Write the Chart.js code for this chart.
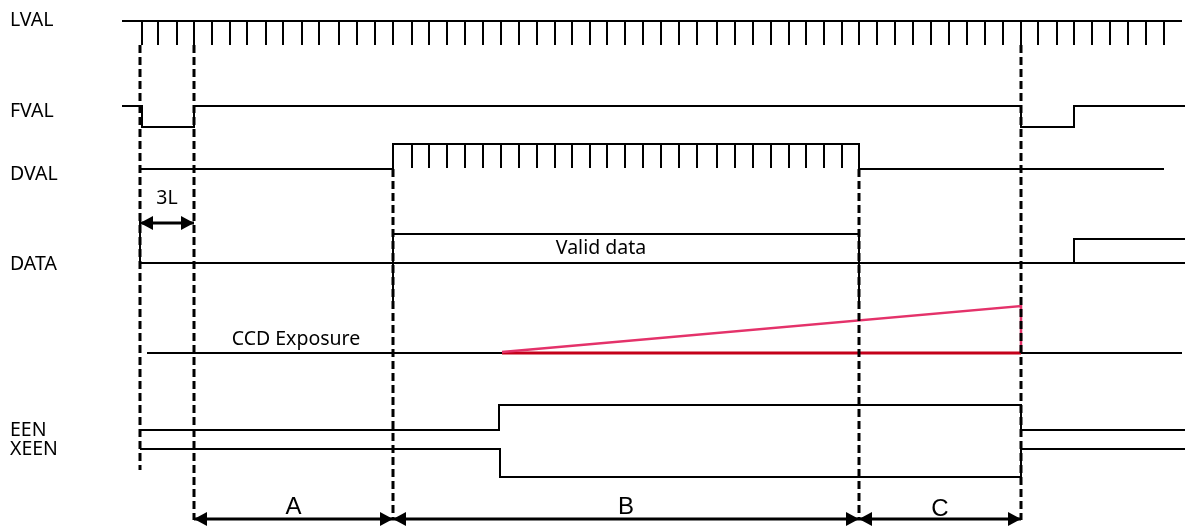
<!DOCTYPE html>
<html>
<head>
<meta charset="utf-8">
<script src="https://cdn.jsdelivr.net/npm/chart.js@4.4.0/dist/chart.umd.min.js"></script>
<style>
    html, body { margin: 0; padding: 0; background: #ffffff; }
    #wrap { width: 1185px; height: 529px; position: relative; }
</style>
</head>
<body>
<div id="wrap"><canvas id="timing"></canvas></div>
<script>
// time axis runs 0..1185, level axis 0..529 (top to bottom)
var LVAL_X = [122, 1182];
var LVAL_Y = [21, 21];
var LVAL_PULSES = [142, 158, 177, 194, 212, 230, 247, 266, 283, 302, 319, 339, 357, 375, 393,
    412, 429, 447, 465, 483, 501, 519, 537, 555, 572, 590, 607, 625, 643, 661, 679, 697, 717,
    735, 753, 771, 789, 806, 824, 842, 859, 877, 895, 913, 931, 949, 967, 985, 1003, 1021,
    1038, 1057, 1074, 1092, 1110, 1128, 1146, 1164];

var FVAL_X = [122, 142, 142, 194, 194, 1021, 1021, 1074, 1074, 1185];
var FVAL_Y = [106, 106, 127, 127, 106, 106, 127, 127, 106, 106];

var DVAL_X = [140, 393, 393, 859, 859, 1164];
var DVAL_Y = [169, 169, 144, 144, 169, 169];
var DVAL_PULSES = [412, 429, 447, 465, 483, 501, 519, 537, 555, 572, 590, 607, 625, 643, 661,
    679, 697, 717, 735, 753, 771, 789, 806, 824, 842];

var DATA_X = [140, 1185];
var DATA_Y = [263, 263];
var VALID_X = [393, 393, 859, 859];
var VALID_Y = [302, 234, 234, 302];
var DATA_START_X = [140, 140];
var DATA_START_Y = [218, 263];
var DATA_NEXT_X = [1074, 1074, 1185];
var DATA_NEXT_Y = [263, 239, 239];

var CCD_OFF_X = [147, 502, null, 1021, 1182];
var CCD_OFF_Y = [353, 353, null, 353, 353];
var CCD_ON_X = [502, 1021];
var CCD_ON_Y = [353, 353];
var CCD_RAMP_X = [502, 1021, 1021];
var CCD_RAMP_Y = [352, 306, 353];

var EEN_X = [140, 499, 499, 1021, 1021, 1185];
var EEN_Y = [430, 430, 405, 405, 430, 430];
var XEEN_X = [140, 500, 500, 1021, 1021, 1185];
var XEEN_Y = [449, 449, 477, 477, 449, 449];

var MARKER_X = [140, 194, 393, 859, 1021];
var MARKER_TOP = [45, 45, 169, 169, 45];
var MARKER_BOTTOM = [470, 520, 520, 520, 520];

var SPAN_NAMES = ["3L", "A", "B", "C"];
var SPAN_FROM = [140, 194, 393, 859];
var SPAN_TO = [194, 393, 859, 1021];
var SPAN_AT = [223, 519, 519, 519];
var SPAN_LABEL_Y = [198, 507, 507, 509];

var SIGNAL_NAMES = ["LVAL", "FVAL", "DVAL", "DATA", "EEN", "XEEN"];
var SIGNAL_NAME_Y = [20, 111, 174, 264, 430, 449];

var NOTES = ["Valid data", "CCD Exposure"];
var NOTE_X = [601, 296];
var NOTE_Y = [248, 339];

function pts(xs, ys) {
    return xs.map(function (x, i) {
        return { x: x === null ? xs[i - 1] : x, y: ys[i] };
    });
}

function comb(xs, top, bottom) {
    var out = [];
    xs.forEach(function (x) {
        out.push({ x: x, y: top }, { x: x, y: bottom }, { x: x, y: null });
    });
    return out;
}

function verticals(xs, tops, bottoms) {
    var out = [];
    xs.forEach(function (x, i) {
        out.push({ x: x, y: tops[i] }, { x: x, y: bottoms[i] }, { x: x, y: null });
    });
    return out;
}

function spans() {
    var out = [];
    SPAN_FROM.forEach(function (x, i) {
        out.push({ x: x, y: SPAN_AT[i] }, { x: SPAN_TO[i], y: SPAN_AT[i] }, { x: x, y: null });
    });
    return out;
}

function line(data, color, width, dash) {
    return {
        data: data,
        showLine: true,
        borderColor: color,
        borderWidth: width || 2,
        borderDash: dash || [],
        borderJoinStyle: "miter",
        pointRadius: 0,
        spanGaps: false,
        tension: 0
    };
}

var labelPlugin = {
    id: "labels",
    afterDatasetsDraw: function (chart) {
        var ctx = chart.ctx;
        var sx = chart.scales.x;
        var sy = chart.scales.y;

        ctx.save();
        ctx.fillStyle = "#000";
        ctx.textBaseline = "middle";

        // arrow heads on the span markers
        SPAN_FROM.forEach(function (x0, i) {
            var y = sy.getPixelForValue(SPAN_AT[i]);
            var a = sx.getPixelForValue(x0);
            var b = sx.getPixelForValue(SPAN_TO[i]);
            ctx.beginPath();
            ctx.moveTo(a, y);
            ctx.lineTo(a + 13, y - 7);
            ctx.lineTo(a + 13, y + 7);
            ctx.closePath();
            ctx.fill();
            ctx.beginPath();
            ctx.moveTo(b, y);
            ctx.lineTo(b - 13, y - 7);
            ctx.lineTo(b - 13, y + 7);
            ctx.closePath();
            ctx.fill();
        });

        ctx.font = "19.5px 'Noto Sans'";
        ctx.textAlign = "left";
        SIGNAL_NAMES.forEach(function (name, i) {
            ctx.fillText(name, sx.getPixelForValue(10), sy.getPixelForValue(SIGNAL_NAME_Y[i]));
        });

        ctx.textAlign = "center";
        NOTES.forEach(function (note, i) {
            ctx.fillText(note, sx.getPixelForValue(NOTE_X[i]), sy.getPixelForValue(NOTE_Y[i]));
        });

        SPAN_NAMES.forEach(function (name, i) {
            var mid = (SPAN_FROM[i] + SPAN_TO[i]) / 2;
            ctx.font = i === 0 ? "19.5px 'Noto Sans'" : "24px 'Liberation Sans'";
            ctx.fillText(name, sx.getPixelForValue(mid), sy.getPixelForValue(SPAN_LABEL_Y[i]));
        });
        ctx.restore();
    }
};

new Chart(document.getElementById("timing").getContext("2d"), {
    type: "scatter",
    data: {
        datasets: [
            line(verticals(MARKER_X, MARKER_TOP, MARKER_BOTTOM), "#000", 3, [8, 4]),
            line(pts(LVAL_X, LVAL_Y), "#000"),
            line(comb(LVAL_PULSES, 21, 45), "#000"),
            line(pts(FVAL_X, FVAL_Y), "#000"),
            line(pts(DVAL_X, DVAL_Y), "#000"),
            line(comb(DVAL_PULSES, 144, 168), "#000"),
            line(pts(DATA_X, DATA_Y), "#000"),
            line(pts(VALID_X, VALID_Y), "#000"),
            line(pts(DATA_START_X, DATA_START_Y), "#000"),
            line(pts(DATA_NEXT_X, DATA_NEXT_Y), "#000"),
            line(pts(CCD_OFF_X, CCD_OFF_Y), "#000"),
            line(pts(CCD_RAMP_X, CCD_RAMP_Y), "#e4326a", 2.5),
            line(pts(CCD_ON_X, CCD_ON_Y), "#c4001a", 3),
            line(pts(EEN_X, EEN_Y), "#000"),
            line(pts(XEEN_X, XEEN_Y), "#000"),
            line(spans(), "#000", 3)
        ]
    },
    options: {
        responsive: true,
        maintainAspectRatio: false,
        animation: false,
        layout: { padding: 0 },
        plugins: {
            legend: { display: false },
            tooltip: { enabled: false }
        },
        scales: {
            x: { type: "linear", min: 0, max: 1185, display: false },
            y: { type: "linear", min: 0, max: 529, reverse: true, display: false }
        }
    },
    plugins: [labelPlugin]
});
</script>
</body>
</html>
